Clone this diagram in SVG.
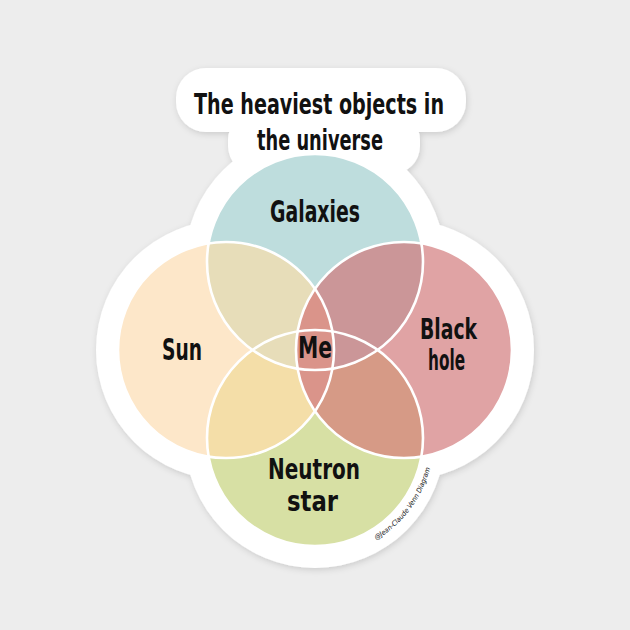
<svg xmlns="http://www.w3.org/2000/svg" width="630" height="630" viewBox="0 0 630 630">
  <style>
    .lbl { font-family: "Liberation Sans Narrow", "DejaVu Sans Condensed", "Liberation Sans", sans-serif; font-weight: bold; font-size: 31px; fill: #111; text-anchor: middle; }
    .lbl2 { font-family: "Liberation Sans Narrow", "DejaVu Sans Condensed", "Liberation Sans", sans-serif; font-weight: bold; font-size: 28px; fill: #111; text-anchor: middle; }
    .title { font-family: "Liberation Sans Narrow", "DejaVu Sans Condensed", "Liberation Sans", sans-serif; font-weight: bold; font-size: 29px; fill: #111; text-anchor: middle; }
    .sig { font-family: "Liberation Sans Narrow", "DejaVu Sans Condensed", "Liberation Sans", sans-serif; font-size: 7px; fill: #111; font-style: italic; }
    .outline { fill: none; stroke: #ffffff; stroke-width: 2.6; }
  </style>
  <defs>
    <circle id="cGal" cx="315" cy="262" r="108"/>
    <circle id="cSun" cx="226" cy="350" r="108"/>
    <circle id="cBH" cx="404" cy="350" r="108"/>
    <circle id="cNeu" cx="315" cy="438" r="108"/>
    <clipPath id="clipGal"><use href="#cGal"/></clipPath>
    <clipPath id="clipSun"><use href="#cSun"/></clipPath>
    <clipPath id="clipNeu"><use href="#cNeu"/></clipPath>
    <filter id="shadow" x="-10%" y="-10%" width="120%" height="120%">
      <feDropShadow dx="1" dy="2" stdDeviation="3" flood-color="#000" flood-opacity="0.14"/>
    </filter>
    <path id="sigArc" d="M 374.5 541 A 119 119 0 0 0 433.5 448.4"/>
  </defs>

  <rect x="0" y="0" width="630" height="630" fill="#ededed"/>

  <!-- sticker backing -->
  <g id="sticker" fill="#ffffff" filter="url(#shadow)">
    <circle cx="315" cy="262" r="130"/>
    <circle cx="226" cy="350" r="130"/>
    <circle cx="404" cy="350" r="130"/>
    <circle cx="315" cy="438" r="130"/>
    <rect x="176" y="68" width="290" height="64" rx="30"/>
    <rect x="228" y="112" width="192" height="62" rx="28"/>
  </g>

  <g id="title">
    <text class="title" x="319" y="114" textLength="250" lengthAdjust="spacingAndGlyphs">The heaviest objects in</text>
    <text class="title" x="320" y="150" textLength="126" lengthAdjust="spacingAndGlyphs">the universe</text>
  </g>

  <g id="galaxies">
    <use href="#cGal" fill="#bedddd"/>
    <text class="lbl" x="315" y="222" textLength="90" lengthAdjust="spacingAndGlyphs">Galaxies</text>
  </g>
  <g id="sun">
    <use href="#cSun" fill="#fde7c9"/>
    <text class="lbl" x="182" y="360" textLength="40" lengthAdjust="spacingAndGlyphs">Sun</text>
  </g>
  <g id="black-hole">
    <use href="#cBH" fill="#e0a3a4"/>
    <text class="lbl2" x="448.5" y="339" textLength="57" lengthAdjust="spacingAndGlyphs">Black</text>
    <text class="lbl2" x="446.5" y="370" textLength="37" lengthAdjust="spacingAndGlyphs">hole</text>
  </g>
  <g id="neutron-star">
    <use href="#cNeu" fill="#d7e0a4"/>
    <text class="lbl2" x="314" y="479" textLength="92" lengthAdjust="spacingAndGlyphs">Neutron</text>
    <text class="lbl2" x="312.5" y="511" textLength="51" lengthAdjust="spacingAndGlyphs">star</text>
  </g>

  <g id="overlaps">
    <use href="#cSun" fill="#f4dea8" clip-path="url(#clipNeu)"/>
    <use href="#cBH" fill="#d69a86" clip-path="url(#clipNeu)"/>
    <use href="#cSun" fill="#e7ddb9" clip-path="url(#clipGal)"/>
    <use href="#cBH" fill="#cb9698" clip-path="url(#clipGal)"/>
    <use href="#cBH" fill="#da948a" clip-path="url(#clipSun)"/>
  </g>

  <g id="connectors" class="outline">
    <use href="#cGal"/>
    <use href="#cSun"/>
    <use href="#cBH"/>
    <use href="#cNeu"/>
  </g>

  <g id="me">
    <text class="lbl" x="315" y="358" textLength="34" lengthAdjust="spacingAndGlyphs">Me</text>
  </g>

  <g id="signature">
    <text class="sig"><textPath href="#sigArc" startOffset="2" textLength="92" lengthAdjust="spacingAndGlyphs">@Jean-Claude Venn Diagram</textPath></text>
  </g>
</svg>
